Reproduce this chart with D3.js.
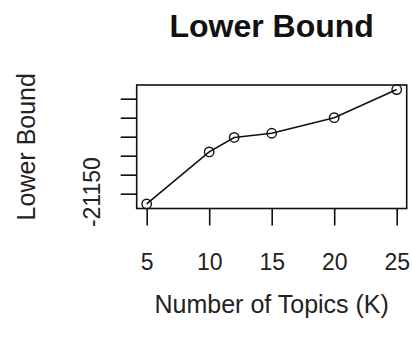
<!DOCTYPE html>
<html>
<head>
<meta charset="utf-8">
<script src="https://cdn.jsdelivr.net/npm/d3@7"></script>
<style>
  html, body { margin: 0; padding: 0; background: #fff; }
  svg { display: block; font-family: "Liberation Sans", Arial, sans-serif; }
</style>
</head>
<body>
<svg id="chart"></svg>
<script>
const topics = [5, 10, 12, 15, 20, 25];
const lowerBound = [-21177, -21040, -21002, -20991, -20950, -20876];
const xTicks = [5, 10, 15, 20, 25];
const yTicks = [-21150, -21100, -21050, -21000, -20950, -20900];
const yLabelled = [-21150];

const W = 412, H = 339;
const box = { left: 136.7, right: 406.7, top: 85, bottom: 208.5 };

const svg = d3.select("#chart").attr("width", W).attr("height", H);

// R-style 4% padding on both axes
function pad(ext) {
  const d = (ext[1] - ext[0]) * 0.04;
  return [ext[0] - d, ext[1] + d];
}

const x = d3.scaleLinear().domain(pad(d3.extent(topics))).range([box.left, box.right]);
const y = d3.scaleLinear().domain(pad(d3.extent(lowerBound))).range([box.bottom, box.top]);

const data = topics.map((t, i) => ({ t, v: lowerBound[i] }));

// Plot box
svg.append("rect")
  .attr("x", box.left).attr("y", box.top)
  .attr("width", box.right - box.left).attr("height", box.bottom - box.top)
  .attr("fill", "none").attr("stroke", "#111").attr("stroke-width", 1.6);

// X axis
const gx = svg.append("g")
  .attr("transform", `translate(0,${box.bottom})`)
  .call(d3.axisBottom(x).tickValues(xTicks).tickSize(17).tickSizeOuter(0));
gx.select(".domain").remove();
gx.selectAll(".tick line").attr("stroke", "#111").attr("stroke-width", 1.6);
gx.selectAll(".tick text")
  .attr("y", 61.5).attr("dy", 0)
  .attr("fill", "#222")
  .style("font-size", "23px");

// Y axis (only the lowest tick carries a label, plain hyphen minus)
const gy = svg.append("g")
  .attr("transform", `translate(${box.left},0)`)
  .call(d3.axisLeft(y).tickValues(yTicks).tickSize(16).tickSizeOuter(0)
    .tickFormat(d => yLabelled.includes(d) ? String(d) : ""));
gy.select(".domain").remove();
gy.selectAll(".tick line").attr("stroke", "#111").attr("stroke-width", 1.6);
gy.selectAll(".tick text")
  .attr("x", 0).attr("dy", 0)
  .attr("text-anchor", "middle")
  .attr("transform", "translate(-36.5,-2) rotate(-90)")
  .attr("fill", "#222")
  .style("font-size", "23px");

// Line through open circles (type = "o")
svg.append("path")
  .datum(data)
  .attr("fill", "none")
  .attr("stroke", "#111")
  .attr("stroke-width", 1.6)
  .attr("d", d3.line().x(d => x(d.t)).y(d => y(d.v)));

svg.append("g")
  .selectAll("circle")
  .data(data)
  .join("circle")
  .attr("cx", d => x(d.t))
  .attr("cy", d => y(d.v))
  .attr("r", 4.7)
  .attr("fill", "none")
  .attr("stroke", "#111")
  .attr("stroke-width", 1.4);

// Title
svg.append("text")
  .attr("x", (box.left + box.right) / 2)
  .attr("y", 37)
  .attr("text-anchor", "middle")
  .attr("fill", "#111")
  .style("font-size", "32px")
  .style("font-weight", "bold")
  .text("Lower Bound");

// Axis titles
svg.append("text")
  .attr("x", (box.left + box.right) / 2)
  .attr("y", 313)
  .attr("text-anchor", "middle")
  .attr("fill", "#222")
  .style("font-size", "25px")
  .text("Number of Topics (K)");

svg.append("text")
  .attr("transform", `translate(35,${(box.top + box.bottom) / 2}) rotate(-90)`)
  .attr("text-anchor", "middle")
  .attr("fill", "#222")
  .style("font-size", "25px")
  .text("Lower Bound");
</script>
</body>
</html>
